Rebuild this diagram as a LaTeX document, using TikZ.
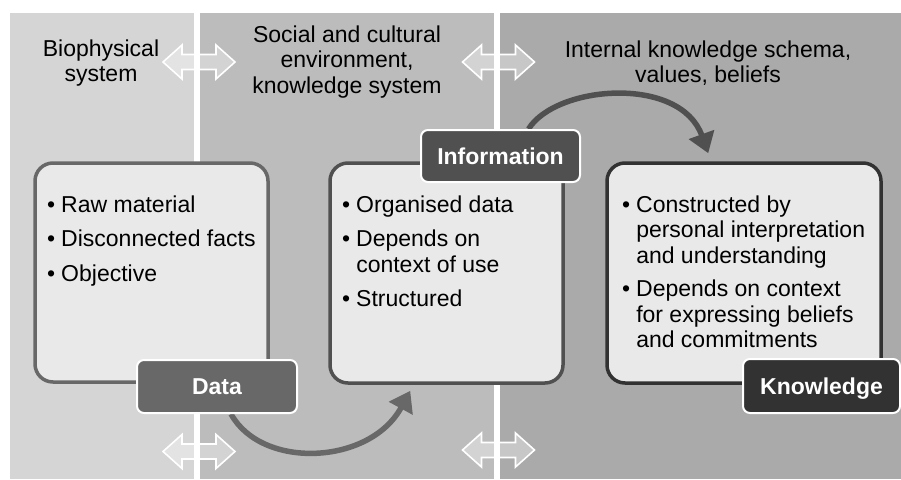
\documentclass[tikz,border=0pt]{standalone}
\usepackage{fontspec}
\setmainfont{Liberation Sans}
\usetikzlibrary{arrows.meta}
\pgfdeclarelayer{panels}
\pgfdeclarelayer{flows}
\pgfsetlayers{panels,flows,main}
\definecolor{panelA}{RGB}{213,213,213}
\definecolor{panelB}{RGB}{188,188,188}
\definecolor{panelC}{RGB}{170,170,170}
\definecolor{boxfill}{RGB}{233,233,233}
\definecolor{grayA}{RGB}{104,104,104}
\definecolor{grayB}{RGB}{80,80,80}
\definecolor{grayC}{RGB}{50,50,50}
\tikzset{
  dblarrow/.pic={\path[draw=white, line width=1.6pt, fill=white, fill opacity=0.35, line join=miter]
    (-36,0) -- (-17,-17) -- (-17,-7.5) -- (17,-7.5) -- (17,-17) -- (36,0) -- (17,17) -- (17,7.5) -- (-17,7.5) -- (-17,17) -- cycle;},
  contentbox/.style={line width=3.5pt, rounded corners=18pt, fill=boxfill, inner sep=0pt},
  tagbox/.style={draw=white, line width=2pt, rounded corners=7pt, text=white, inner sep=0pt,
    font=\fontsize{23}{25.5}\selectfont\bfseries, text height=16.5pt, text depth=0pt},
  header/.style={anchor=base, inner sep=0pt},
  bullets/.style={anchor=base west, inner sep=0pt},
  flow/.style={line width=5.5pt, -{Triangle[length=20pt,width=26pt]}},
  sepline/.style={draw=white, line width=6pt}
}
\begin{document}
\begin{tikzpicture}[x=1pt,y=-1pt,font=\fontsize{23}{25.5}\selectfont]
\useasboundingbox (0,0) rectangle (901,479);
% panels
\begin{pgfonlayer}{panels}
\fill[panelA] (10,13) rectangle (196.5,479);
\fill[panelB] (196.5,13) rectangle (496.5,479);
\fill[panelC] (496.5,13) rectangle (901,479);
\end{pgfonlayer}
\draw[sepline] (196.5,13) -- (196.5,479);
\draw[sepline] (496.5,13) -- (496.5,479);
% double arrows
\pic at (199,62) {dblarrow};
\pic at (498.5,62) {dblarrow};
\pic at (199,451.5) {dblarrow};
\pic at (498.5,450) {dblarrow};
% headers
\node[header] (bio) at (101,56) {\begin{tabular}[t]{@{}c@{}}Biophysical\\system\end{tabular}};
\node[header] (social) at (347,42) {\begin{tabular}[t]{@{}c@{}}Social and cultural\\environment,\\knowledge system\end{tabular}};
\node[header] (internal) at (708,57) {\begin{tabular}[t]{@{}c@{}}Internal knowledge schema,\\values, beliefs\end{tabular}};
% content boxes
\node[contentbox, draw=grayA, minimum width=233pt, minimum height=219pt] (databox) at (151.5,272.5) {};
\node[contentbox, draw=grayB, minimum width=233pt, minimum height=220pt] (infobox) at (446.5,273) {};
\node[contentbox, draw=grayC, minimum width=274pt, minimum height=220pt] (knowbox) at (744,273) {};
% bullet texts
\node[bullets] (datatext) at (47,212) {\begin{tabular}[t]{@{}l@{\hspace{6pt}}l@{}}\textbullet & Raw material\\[9pt] \textbullet & Disconnected facts\\[9pt] \textbullet & Objective\end{tabular}};
\node[bullets] (infotext) at (342,212) {\begin{tabular}[t]{@{}l@{\hspace{6pt}}l@{}}\textbullet & Organised data\\[9pt] \textbullet & Depends on\\ & context of use\\[9pt] \textbullet & Structured\end{tabular}};
\node[bullets] (knowtext) at (622,212) {\begin{tabular}[t]{@{}l@{\hspace{6pt}}l@{}}\textbullet & Constructed by\\ & personal interpretation\\ & and understanding\\[8pt] \textbullet & Depends on context\\ & for expressing beliefs\\ & and commitments\end{tabular}};
% tags
\node[tagbox, fill=grayA, minimum width=160pt, minimum height=53pt] (datatag) at (217,386.5) {Data};
\node[tagbox, fill=grayB, minimum width=159pt, minimum height=52pt] (infotag) at (500.5,156) {Information};
\node[tagbox, fill=grayC, minimum width=157pt, minimum height=54pt] (knowtag) at (821.5,386) {Knowledge};
% flows
\begin{pgfonlayer}{flows}
\draw[flow, draw=grayA] ([xshift=14pt]datatag.south) .. controls (262,470) and (370,465) .. ([xshift=82pt,yshift=-6pt]infobox.south west);
\draw[flow, draw=grayB] ([xshift=28pt]infotag.north) .. controls (556,85) and (680,75) .. ([xshift=103pt,yshift=8pt]knowbox.north west);
\end{pgfonlayer}
\end{tikzpicture}
\end{document}
